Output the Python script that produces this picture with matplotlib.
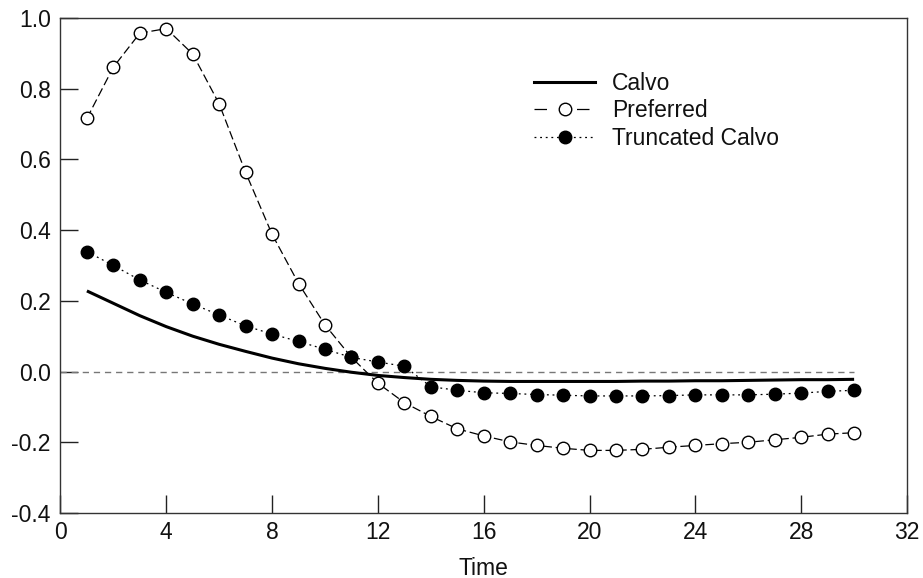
import numpy as np
import matplotlib
matplotlib.use("Agg")
import matplotlib.pyplot as plt
from matplotlib.lines import Line2D

plt.rcParams['font.family'] = ['Liberation Sans', 'DejaVu Sans']

# %% data
time = list(range(1, 31))
calvo = [0.228, 0.193, 0.158, 0.127, 0.100, 0.077, 0.057, 0.038, 0.022, 0.009,
         -0.002, -0.011, -0.017, -0.022, -0.025, -0.027, -0.028, -0.028, -0.028, -0.028,
         -0.028, -0.027, -0.027, -0.026, -0.026, -0.025, -0.024, -0.023, -0.023, -0.022]
preferred = [0.716, 0.861, 0.957, 0.970, 0.898, 0.757, 0.563, 0.388, 0.249, 0.132,
             0.040, -0.033, -0.088, -0.127, -0.162, -0.182, -0.199, -0.209, -0.217, -0.223,
             -0.223, -0.220, -0.214, -0.209, -0.204, -0.200, -0.193, -0.186, -0.177, -0.173]
truncated = [0.339, 0.300, 0.259, 0.224, 0.191, 0.160, 0.129, 0.106, 0.085, 0.063,
             0.040, 0.027, 0.015, -0.043, -0.053, -0.060, -0.062, -0.065, -0.067, -0.069,
             -0.069, -0.069, -0.068, -0.066, -0.066, -0.066, -0.064, -0.061, -0.056, -0.053]
xticks = [0, 4, 8, 12, 16, 20, 24, 28, 32]
yticks = [-0.4, -0.2, 0.0, 0.2, 0.4, 0.6, 0.8, 1.0]

# %% plot
fig = plt.figure(figsize=(9.23, 5.78), dpi=100)
ax = fig.add_axes([0.0655, 0.1125, 0.9172, 0.8564])

ax.plot([0, 30], [0, 0], color='#777777', lw=1.0, dashes=(4.5, 3.5))
ax.plot(time, calvo, color='black', lw=2.2, solid_capstyle='butt')
ax.plot(time, preferred, color='black', lw=0.9, dashes=(7, 3),
        marker='o', ms=9, mfc='white', mec='black', mew=1.0)
ax.plot(time, truncated, color='black', lw=0.9, dashes=(1.5, 3),
        marker='o', ms=9, mfc='black', mec='black')

fs = 16.5
ax.set_xlim(0, 32)
ax.set_ylim(-0.4, 1.0)
ax.set_xticks(xticks)
ax.set_yticks(yticks)
ax.set_yticklabels(['%.1f' % v for v in yticks])
ax.tick_params(direction='in', length=13, width=1.0, color='#222222',
               labelsize=fs, labelcolor='#111111')
ax.tick_params(axis='y', pad=7)
ax.tick_params(axis='x', pad=6)
for s in ax.spines.values():
    s.set_linewidth(1.0)
    s.set_color('#333333')
ax.set_xlabel('Time', fontsize=fs, color='#111111', labelpad=9)

handles = [
    Line2D([], [], color='black', lw=2.2),
    Line2D([], [], color='black', lw=0.9, dashes=(10, 24),
           marker='o', ms=9, mfc='white', mec='black'),
    Line2D([], [], color='black', lw=0.9, dashes=(1.5, 3),
           marker='o', ms=9, mfc='black', mec='black'),
]
ax.legend(handles, ['Calvo', 'Preferred', 'Truncated Calvo'], frameon=False,
          fontsize=fs, handlelength=2.66, handletextpad=0.73, labelspacing=0.2,
          loc='upper left', bbox_to_anchor=(0.549, 0.91), borderaxespad=0,
          labelcolor='#111111')

fig.savefig('out.png', dpi=100)
